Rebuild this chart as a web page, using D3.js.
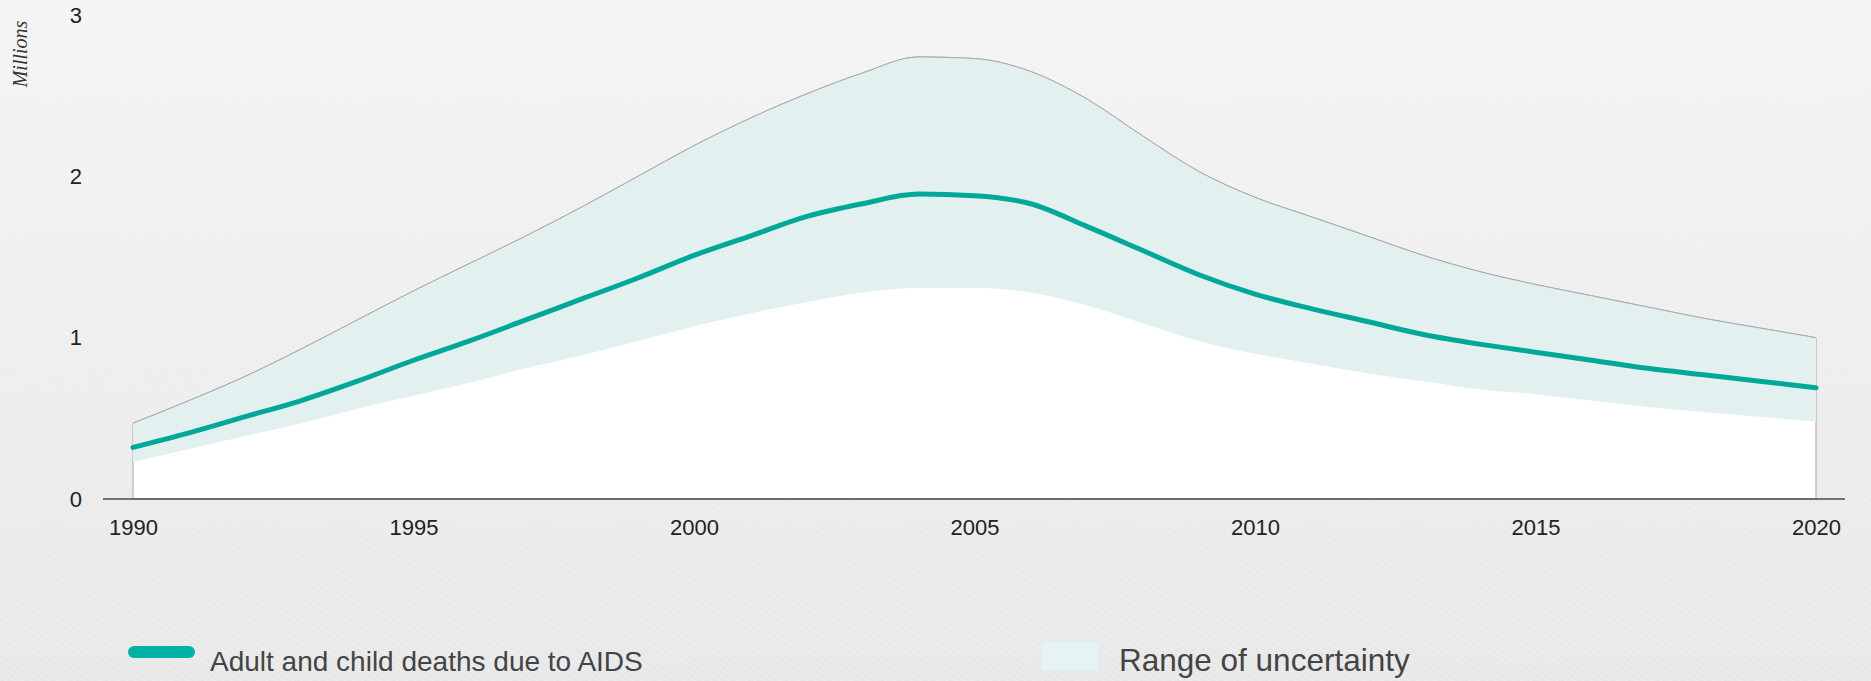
<!DOCTYPE html>
<html>
<head>
<meta charset="utf-8">
<script src="https://cdn.jsdelivr.net/npm/d3@7/dist/d3.min.js"></script>
<style>
    body { margin: 0; background: #ececec; overflow: hidden; }
    svg { display: block; }
</style>
</head>
<body>
<div id="chart"></div>
<script>
// data (millions)
var years = d3.range(1990, 2021)
var deaths = [0.32, 0.41, 0.51, 0.61, 0.73, 0.86, 0.98, 1.11, 1.24, 1.37,
              1.51, 1.63, 1.75, 1.83, 1.89, 1.88, 1.83, 1.69, 1.54, 1.39,
              1.27, 1.18, 1.10, 1.02, 0.96, 0.91, 0.86, 0.81, 0.77, 0.73, 0.69]
var upper = [0.47, 0.61, 0.76, 0.93, 1.11, 1.29, 1.46, 1.63, 1.81, 2.00,
             2.19, 2.36, 2.51, 2.64, 2.74, 2.73, 2.65, 2.48, 2.25, 2.03,
             1.87, 1.75, 1.63, 1.51, 1.41, 1.33, 1.26, 1.19, 1.12, 1.06, 1.00]
var lower = [0.23, 0.31, 0.39, 0.47, 0.56, 0.64, 0.72, 0.81, 0.89, 0.98,
             1.07, 1.15, 1.22, 1.28, 1.31, 1.31, 1.28, 1.20, 1.09, 0.98,
             0.90, 0.84, 0.78, 0.73, 0.68, 0.65, 0.61, 0.57, 0.54, 0.51, 0.48]
var xTicks = [1990, 1995, 2000, 2005, 2010, 2015, 2020]
var yTicks = [0, 1, 2, 3]
var legendLabels = ["Adult and child deaths due to AIDS", "Range of uncertainty"]

var width = 1871
var height = 681
var margin = {top: 15, right: 55, bottom: 182, left: 133}

var teal = "#00a899"
var band = "#e2f0f0"

var data = years.map(function(yr, i) {
    return {year: yr, v: deaths[i], hi: upper[i], lo: lower[i]}
})

var svg = d3.select("#chart")
    .append("svg")
        .attr("width", width)
        .attr("height", height)

// faint diagonal texture of the backdrop
var defs = svg.append("defs")
var grad = defs.append("linearGradient")
    .attr("id", "bg")
    .attr("x1", 0).attr("y1", 0).attr("x2", 0).attr("y2", 1)
grad.append("stop").attr("offset", 0).attr("stop-color", "#f4f4f4")
grad.append("stop").attr("offset", 1).attr("stop-color", "#e8e8e8")
var pat = defs.append("pattern")
    .attr("id", "stripes")
    .attr("width", 5).attr("height", 5)
    .attr("patternUnits", "userSpaceOnUse")
    .attr("patternTransform", "rotate(-55)")
pat.append("line")
    .attr("x1", 0).attr("y1", 0).attr("x2", 0).attr("y2", 5)
    .attr("stroke", "#ffffff")
    .attr("stroke-opacity", 0.35)
    .attr("stroke-width", 1.5)

svg.append("rect").attr("width", width).attr("height", height).attr("fill", "url(#bg)")
svg.append("rect").attr("width", width).attr("height", height).attr("fill", "url(#stripes)")

var x = d3.scaleLinear()
    .domain([1990, 2020])
    .range([margin.left, width - margin.right])

var y = d3.scaleLinear()
    .domain([0, 3])
    .range([height - margin.bottom, margin.top])

// white area under the upper bound, outlined in grey
var under = d3.area()
    .x(d => x(d.year))
    .y0(y(0))
    .y1(d => y(d.hi))
    .curve(d3.curveMonotoneX)

svg.append("path")
    .datum(data)
    .attr("d", under)
    .attr("fill", "#ffffff")
    .attr("stroke", "#a8a8a8")
    .attr("stroke-width", 1)

// uncertainty band
var range = d3.area()
    .x(d => x(d.year))
    .y0(d => y(d.lo))
    .y1(d => y(d.hi))
    .curve(d3.curveMonotoneX)

svg.append("path")
    .datum(data)
    .attr("d", range)
    .attr("fill", band)

// redraw the top edge so the band does not cover it
svg.append("path")
    .datum(data)
    .attr("d", d3.line().x(d => x(d.year)).y(d => y(d.hi)).curve(d3.curveMonotoneX))
    .attr("fill", "none")
    .attr("stroke", "#a8a8a8")
    .attr("stroke-width", 1)

// deaths line
svg.append("path")
    .datum(data)
    .attr("d", d3.line().x(d => x(d.year)).y(d => y(d.v)).curve(d3.curveMonotoneX))
    .attr("fill", "none")
    .attr("stroke", teal)
    .attr("stroke-width", 5)
    .attr("stroke-linecap", "round")

// x axis
var xAxis = svg.append("g")
    .attr("transform", "translate(0," + y(0) + ")")
    .call(d3.axisBottom(x)
        .tickValues(xTicks)
        .tickFormat(d3.format("d"))
        .tickSize(0)
        .tickPadding(20))
xAxis.select(".domain").remove()
xAxis.selectAll("text")
    .attr("font-family", "Liberation Sans, Arial, sans-serif")
    .attr("font-size", 22)
    .attr("fill", "#222")

svg.append("line")
    .attr("x1", x.range()[0] - 30)
    .attr("x2", x.range()[1] + 29)
    .attr("y1", y(0))
    .attr("y2", y(0))
    .attr("stroke", "#4a4a4a")
    .attr("stroke-width", 1.5)

// y axis
var yAxis = svg.append("g")
    .attr("transform", "translate(" + x(1990) + ",0)")
    .call(d3.axisLeft(y)
        .tickValues(yTicks)
        .tickFormat(d3.format("d"))
        .tickSize(0)
        .tickPadding(51))
yAxis.select(".domain").remove()
yAxis.selectAll("text")
    .attr("font-family", "Liberation Sans, Arial, sans-serif")
    .attr("font-size", 22)
    .attr("fill", "#222")

svg.append("text")
    .attr("transform", "translate(27,54) rotate(-90)")
    .attr("text-anchor", "middle")
    .attr("font-family", "Liberation Serif, serif")
    .attr("font-style", "italic")
    .attr("font-size", 20)
    .attr("fill", "#333")
    .text("Millions")

// legend
var legend = svg.append("g")
    .attr("font-family", "Liberation Sans, Arial, sans-serif")
    .attr("fill", "#444")

legend.append("rect")
    .attr("x", 128).attr("y", 646)
    .attr("width", 67).attr("height", 12)
    .attr("rx", 6)
    .attr("fill", "#00b2a4")
legend.append("text")
    .attr("x", 210).attr("y", 671)
    .attr("font-size", 28)
    .text(legendLabels[0])

legend.append("rect")
    .attr("x", 1042).attr("y", 642)
    .attr("width", 57).attr("height", 29)
    .attr("fill", "#e6f3f3")
    .attr("stroke", "#e0ecf0")
legend.append("text")
    .attr("x", 1119).attr("y", 671)
    .attr("font-size", 31.5)
    .text(legendLabels[1])
</script>
</body>
</html>
